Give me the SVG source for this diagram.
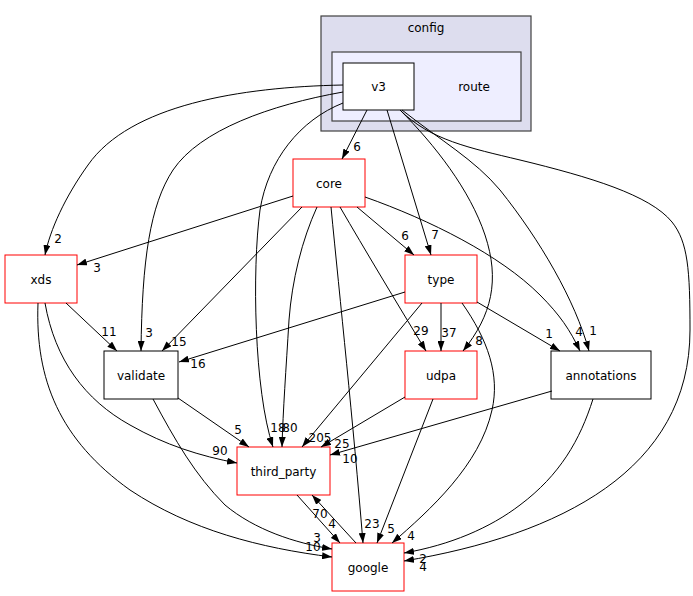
<svg xmlns="http://www.w3.org/2000/svg" width="693" height="596" viewBox="0 0 693 596">
<style>
text{font-family:"DejaVu Sans","Liberation Sans",sans-serif;font-size:12px;fill:#000;text-anchor:middle}
.n{fill:#fff;stroke:#000;stroke-width:1}
.r{fill:#fff;stroke:#ff0000;stroke-width:1}
.e path{fill:none;stroke:#000;stroke-width:1;marker-end:url(#ah)}
</style>
<defs>
<marker id="ah" markerUnits="userSpaceOnUse" markerWidth="10" markerHeight="7" refX="10" refY="3.5" orient="auto">
<path d="M0,0 L10,3.5 L0,7 z" fill="#000"/>
</marker>
</defs>
<rect width="693" height="596" fill="#fff"/>
<g id="cluster_config">
<rect x="321" y="16" width="210" height="115" fill="#ddddee" stroke="#404040" stroke-width="1.2"/>
<text x="426" y="32">config</text>
</g>
<g id="cluster_route">
<rect x="332" y="52" width="189" height="69" fill="#eeeeff" stroke="#404040" stroke-width="1.2"/>
<text x="474" y="90.5">route</text>
</g>
<g id="v3"><rect class="n" x="343" y="63" width="71" height="47"/><text x="378.5" y="90.5">v3</text></g>
<g id="core"><rect class="r" x="293" y="159" width="72" height="48"/><text x="329" y="187.5">core</text></g>
<g id="xds"><rect class="r" x="5" y="255" width="72" height="48"/><text x="41" y="283.5">xds</text></g>
<g id="type"><rect class="r" x="405" y="255" width="72" height="48"/><text x="441" y="283.5">type</text></g>
<g id="validate"><rect class="n" x="104" y="351" width="74" height="48"/><text x="141" y="379.5">validate</text></g>
<g id="udpa"><rect class="r" x="405" y="351" width="72" height="48"/><text x="441" y="379.5">udpa</text></g>
<g id="annotations"><rect class="n" x="551" y="351" width="100" height="48"/><text x="601" y="379.5">annotations</text></g>
<g id="third_party"><rect class="r" x="237" y="447" width="93" height="48"/><text x="283.5" y="475.5">third_party</text></g>
<g id="google"><rect class="r" x="332" y="543" width="72" height="48"/><text x="368" y="571.5">google</text></g>
<g id="edges" class="e">
<path d="M343,85 C240,87 130,105 88,165 C65,197 50,230 45,255"/>
<path d="M343,92 C270,105 200,130 173,170 C150,205 142,260 141,351"/>
<path d="M343,103 C300,120 268,160 260,210 C252,270 254,390 273,447"/>
<path d="M367,110 L342,159"/>
<path d="M387,110 L431,255"/>
<path d="M400,110 C435,145 470,190 485,235 C500,280 492,315 463,351"/>
<path d="M402,110 C440,140 475,160 500,190 C540,240 575,300 589,351"/>
<path d="M400,110 C430,140 470,148 520,160 C590,177 650,195 672,222 C688,242 690,270 690,330 C690,470 560,535 404,561"/>
<path d="M293,196 L77,265"/>
<path d="M302,207 L162,351"/>
<path d="M317,207 C302,240 292,280 289,320 C286,370 283,410 282,447"/>
<path d="M331,207 C340,300 353,420 363,543"/>
<path d="M340,207 C365,250 395,300 426,351"/>
<path d="M357,207 L414,255"/>
<path d="M365,197 C430,220 500,255 540,295 C560,315 570,330 580,351"/>
<path d="M405,292 L179,362"/>
<path d="M422,303 L302,447"/>
<path d="M441,303 L441,351"/>
<path d="M462,303 C488,340 500,375 492,410 C480,465 430,510 392,543"/>
<path d="M477,302 L560,351"/>
<path d="M405,397 L321,447"/>
<path d="M433,399 L377,543"/>
<path d="M552,391 L330,455"/>
<path d="M593,399 C580,440 560,475 520,505 C490,528 450,545 404,553"/>
<path d="M178,398 L249,447"/>
<path d="M153,399 C175,440 195,475 225,505 C255,530 295,543 332,549"/>
<path d="M38,303 C35,380 60,440 130,490 C190,530 260,548 332,557"/>
<path d="M66,303 L117,351"/>
<path d="M45,303 C55,360 85,400 130,425 C165,445 200,456 237,463"/>
<path d="M297,495 L340,543"/>
<path d="M356,543 L312,495"/>
</g>
<g id="edge_labels">
<text x="58" y="242.5">2</text>
<text x="149" y="336.5">3</text>
<text x="278" y="431.5">18</text>
<text x="357" y="151">6</text>
<text x="435" y="238.5">7</text>
<text x="479" y="344.5">8</text>
<text x="593" y="334.5">1</text>
<text x="423" y="570.5">4</text>
<text x="97" y="271.5">3</text>
<text x="179" y="345.5">15</text>
<text x="290" y="431.5">80</text>
<text x="372" y="527.5">23</text>
<text x="421" y="334.5">29</text>
<text x="405" y="239.5">6</text>
<text x="579" y="335.5">4</text>
<text x="198" y="367.5">16</text>
<text x="320" y="441.5">205</text>
<text x="449" y="336.5">37</text>
<text x="411" y="539.5">4</text>
<text x="549" y="337.5">1</text>
<text x="342" y="447.5">25</text>
<text x="391" y="532.5">5</text>
<text x="350" y="462.5">10</text>
<text x="423" y="562.5">2</text>
<text x="238" y="433.5">5</text>
<text x="317" y="541.5">3</text>
<text x="313" y="550.5">10</text>
<text x="109" y="335.5">11</text>
<text x="220" y="454.5">90</text>
<text x="332" y="527.5">4</text>
<text x="320" y="517.5">70</text>
</g>
</svg>
